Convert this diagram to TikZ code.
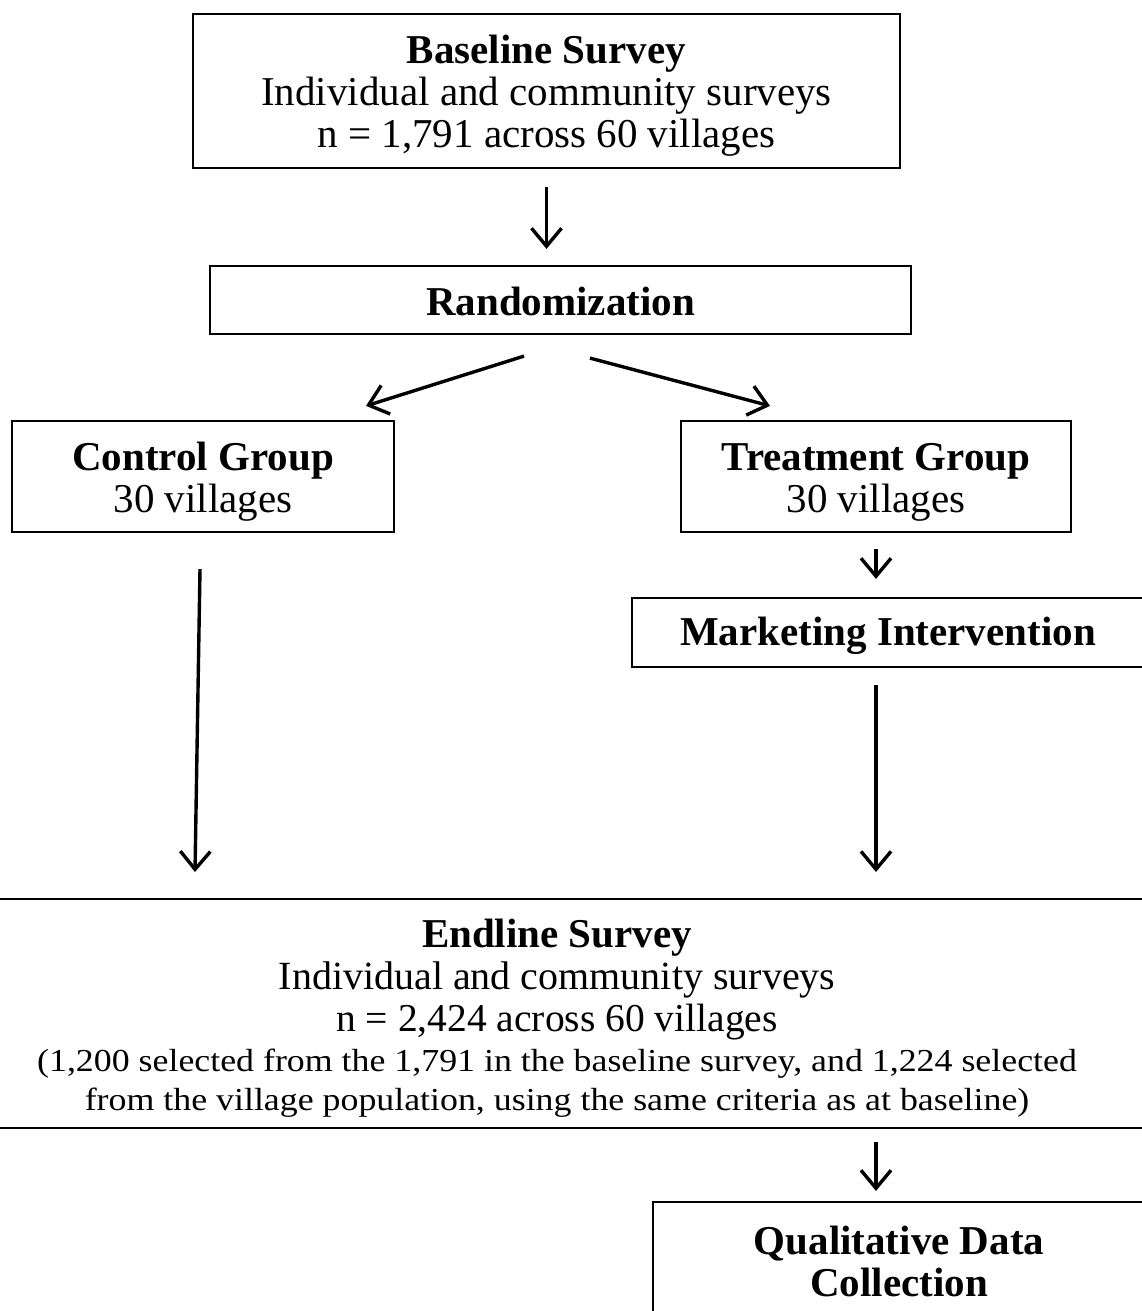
\documentclass[tikz,border=0pt]{standalone}
\usepackage{fontspec}
\setmainfont{Liberation Serif}
\usetikzlibrary{arrows.meta,calc}
\newcommand\dnstrut[1]{\rule{0pt}{#1}}
\begin{document}
\begin{tikzpicture}[x=1pt,y=-1pt,
 box/.style={draw, line width=2.2pt, inner sep=0pt, align=center, font=\fontsize{41}{42}\selectfont},
 arr/.style={line width=3.4pt, -{Straight Barb[length=18pt,width=30pt]}},
 rule/.style={line width=2.8pt}]
\useasboundingbox (0,0) rectangle (1142,1311);
\fill[white] (0,0) rectangle (1142,1311);
\node[box, minimum width=707pt, minimum height=154pt] (base) at (546.5,91)
  {\dnstrut{38pt}\textbf{Baseline Survey}\\Individual and community surveys\\n = 1,791 across 60 villages};
\node[box, minimum width=701pt, minimum height=68pt] (rand) at (560.5,300) {\dnstrut{31pt}\textbf{Randomization}};
\node[box, minimum width=382pt, minimum height=111pt] (ctrl) at (203,476.5) {\dnstrut{39pt}\textbf{Control Group}\\30 villages};
\node[box, minimum width=390pt, minimum height=111pt] (treat) at (876,476.5) {\dnstrut{39pt}\textbf{Treatment Group}\\30 villages};
\node[box, minimum width=512pt, minimum height=69pt] (mkt) at (888,632.5) {\dnstrut{36pt}\textbf{Marketing Intervention}};
\coordinate (etop) at (0,899);
\coordinate (ebot) at (0,1128);
\draw[rule] (etop) -- (1142,899);
\draw[rule] (ebot) -- (1142,1128);
\node[align=center, inner sep=0pt, font=\fontsize{40}{42}\selectfont] (end) at (557,1018.5)
  {{\fontsize{41}{42}\selectfont\textbf{Endline Survey}}\\Individual and community surveys\\{\fontsize{39.5}{42}\selectfont n = 2,424 across 60 villages}\\[-2pt]
   \scalebox{1.12}[1]{\fontsize{32}{40}\selectfont (1,200 selected from the 1,791 in the baseline survey, and 1,224 selected}\\[-3pt]
   \scalebox{1.12}[1]{\fontsize{32}{40}\selectfont from the village population, using the same criteria as at baseline)}};
\node[box, minimum width=492pt, minimum height=118pt] (qual) at (899,1261) {\textbf{Qualitative Data}\\\textbf{Collection}};
% connectors
\draw[arr, shorten <=18pt, shorten >=16pt] (base.south) -- (base.south |- rand.north);
\draw[arr] ([xshift=-36.5pt,yshift=-21pt]rand.south) -- ([xshift=163pt,yshift=14pt]ctrl.north);
\draw[arr] ([xshift=29.5pt,yshift=-23pt]rand.south) -- ([xshift=-106pt,yshift=14pt]treat.north);
\draw[arr, shorten <=16pt, shorten >=18pt] (treat.south) -- (treat.south |- mkt.north);
\draw[arr] ([xshift=-3pt,yshift=-36pt]ctrl.south) -- ([xshift=195pt,yshift=27pt]etop);
\draw[arr, shorten <=17pt, shorten >=27pt] (treat.south |- mkt.south) -- (treat.south |- etop);
\draw[arr, shorten <=14pt, shorten >=10pt] (treat.south |- ebot) -- (treat.south |- qual.north);
\end{tikzpicture}
\end{document}
